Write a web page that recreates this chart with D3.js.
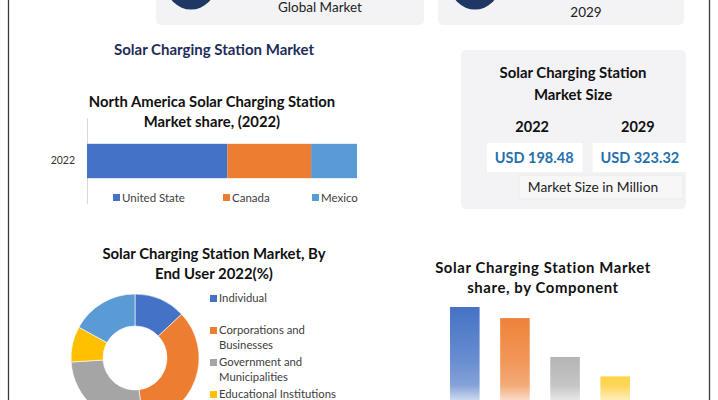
<!DOCTYPE html>
<html><head><meta charset="utf-8">
<script src="https://cdn.jsdelivr.net/npm/d3@7"></script>
<style>
html,body{margin:0;padding:0;background:#fff;}
svg{display:block;font-family:Lato,"Open Sans",sans-serif;}
</style></head>
<body><svg id="c" width="718" height="400"></svg>
<script>
// ---------- data ----------
const naYears = ["2022"];
const naCategories = ["United State", "Canada", "Mexico"];
const naValues = [52, 31, 17];

const marketYears = ["2022", "2029"];
const marketValues = [198.48, 323.32];

const endUserCategories = ["Individual", "Corporations and Businesses", "Government and Municipalities", "Educational Institutions", "Others"];
const endUserValues = [13, 35, 26, 9, 17];

const componentCategories = ["Solar Panels", "Batteries", "Charge Controllers", "Inverters"];
const componentValues = [40, 36, 22, 15];

const palette = ["#4472C4", "#ED7D31", "#A5A5A5", "#FFC000", "#5B9BD5"];
const naColors = ["#4472C4", "#ED7D31", "#5B9BD5"];

const svg = d3.select("#c");

// ---------- frame ----------
svg.append("line").attr("x1", 8.5).attr("x2", 8.5).attr("y1", 0).attr("y2", 400).attr("stroke", "#3a3a3a").attr("stroke-width", 1.3);
svg.append("line").attr("x1", 709.5).attr("x2", 709.5).attr("y1", 0).attr("y2", 400).attr("stroke", "#3a3a3a").attr("stroke-width", 1.3);

// ---------- top cards ----------
const cards = [
  {x: 156, w: 268, cx: 191, lines: ["Largest Share Of The", "Global Market"], tx: 320, y0: -7, dy: 19},
  {x: 438, w: 246, cx: 475, lines: ["Market Value To Reach By", "2029"], tx: 586, y0: -3, dy: 20}
];
cards.forEach(c => {
  svg.append("rect").attr("x", c.x).attr("y", -10).attr("width", c.w).attr("height", 35).attr("rx", 5).attr("fill", "#f3f3f6");
  svg.append("circle").attr("cx", c.cx).attr("cy", -15).attr("r", 24.5).attr("fill", "#1f3764");
  c.lines.forEach((l, i) => {
    svg.append("text").attr("x", c.tx).attr("y", c.y0 + i * c.dy).attr("text-anchor", "middle")
      .attr("font-size", 13.5).attr("fill", "#222").text(l);
  });
});

// ---------- main title ----------
svg.append("text").attr("x", 214).attr("y", 55).attr("text-anchor", "middle").attr("font-size", 15)
  .attr("font-weight", "bold").attr("fill", "#1f2d5a").text("Solar Charging Station Market");

// ---------- North America stacked bar ----------
["North America Solar Charging Station", "Market share, (2022)"].forEach((t, i) => {
  svg.append("text").attr("x", 212).attr("y", 107 + i * 20).attr("text-anchor", "middle")
    .attr("font-size", 14.8).attr("font-weight", "bold").attr("fill", "#111").text(t);
});
const naTotal = d3.sum(naValues);
const xNa = d3.scaleLinear().domain([0, naTotal]).range([87, 357]);
const yNa = d3.scaleBand().domain(naYears).range([140, 182]).padding(0.1);
const naStack = d3.stack().keys(naCategories)([Object.fromEntries(naCategories.map((k, i) => [k, naValues[i]]))]);
svg.append("line").attr("x1", 87.5).attr("x2", 87.5).attr("y1", 118).attr("y2", 204).attr("stroke", "#d9d9d9");
naStack.forEach((s, i) => {
  svg.append("rect").attr("x", xNa(s[0][0])).attr("y", yNa("2022")).attr("width", xNa(s[0][1]) - xNa(s[0][0]))
    .attr("height", yNa.bandwidth()).attr("fill", naColors[i]);
});
const yAxisNa = svg.append("g").attr("transform", "translate(87,0)").call(d3.axisLeft(yNa).tickSize(0).tickPadding(12));
yAxisNa.select(".domain").remove();
yAxisNa.selectAll("text").attr("font-size", 10.5).attr("fill", "#333").attr("font-family", "Lato, sans-serif");
const naLegX = [113, 223, 312];
naCategories.forEach((c, i) => {
  svg.append("rect").attr("x", naLegX[i]).attr("y", 194).attr("width", 7).attr("height", 7).attr("fill", naColors[i]);
  svg.append("text").attr("x", naLegX[i] + 9).attr("y", 202).attr("font-size", 11.5).attr("fill", "#404040").text(c);
});

// ---------- market size card ----------
svg.append("rect").attr("x", 461).attr("y", 50).attr("width", 225).attr("height", 159).attr("rx", 5).attr("fill", "#f3f3f5");
["Solar Charging Station", "Market Size"].forEach((t, i) => {
  svg.append("text").attr("x", 573).attr("y", 78 + i * 22).attr("text-anchor", "middle")
    .attr("font-size", 14.9).attr("font-weight", "bold").attr("fill", "#111").text(t);
});
const xMk = d3.scaleBand().domain(marketYears).range([482, 688]).paddingInner(0.05);
marketYears.forEach((yr, i) => {
  const cx = xMk(yr) + xMk.bandwidth() / 2;
  svg.append("text").attr("x", cx).attr("y", 132).attr("text-anchor", "middle").attr("font-size", 14.5)
    .attr("font-weight", "bold").attr("fill", "#111").text(yr);
  svg.append("rect").attr("x", xMk(yr) + 5).attr("y", 143).attr("width", xMk.bandwidth() - 5).attr("height", 29).attr("fill", "#fff");
  svg.append("text").attr("x", cx + 2).attr("y", 163).attr("text-anchor", "middle").attr("font-size", 14.5)
    .attr("font-weight", "bold").attr("fill", "#2470ad").text("USD " + d3.format(".2f")(marketValues[i]));
});
svg.append("rect").attr("x", 519).attr("y", 175).attr("width", 164).attr("height", 24).attr("fill", "#f7f7f8").attr("stroke", "#ececef");
svg.append("text").attr("x", 593).attr("y", 192).attr("text-anchor", "middle").attr("font-size", 13.8).attr("fill", "#222").text("Market Size in Million");

// ---------- donut ----------
["Solar Charging Station Market, By", "End User 2022(%)"].forEach((t, i) => {
  svg.append("text").attr("x", 214).attr("y", 259 + i * 20).attr("text-anchor", "middle")
    .attr("font-size", 14.9).attr("font-weight", "bold").attr("fill", "#111").text(t);
});
const pie = d3.pie().sort(null).value(d => d)(endUserValues);
const arc = d3.arc().innerRadius(32).outerRadius(64);
const gD = svg.append("g").attr("transform", "translate(135,358)");
gD.selectAll("path").data(pie).enter().append("path").attr("d", arc).attr("fill", (d, i) => palette[i])
  .attr("stroke", "#fff").attr("stroke-width", 0.6);
endUserCategories.forEach((c, i) => {
  const y0 = 302 + i * 32;
  if (y0 > 400) return; // below the visible area
  const lines = c.includes(" and ") ? [c.split(" and ")[0] + " and", c.split(" and ")[1]] : [c];
  svg.append("rect").attr("x", 210).attr("y", y0 - 7).attr("width", 7).attr("height", 7).attr("fill", palette[i]);
  lines.forEach((l, j) => {
    svg.append("text").attr("x", 219).attr("y", y0 + j * 15).attr("font-size", 11.3).attr("fill", "#404040").text(l);
  });
});

// ---------- component bars ----------
["Solar Charging Station Market", "share, by Component"].forEach((t, i) => {
  svg.append("text").attr("x", 543).attr("y", 273 + i * 20).attr("text-anchor", "middle")
    .attr("font-size", 14.9).attr("font-weight", "bold").attr("letter-spacing", 0.6).attr("fill", "#111").text(t);
});
const xC = d3.scaleBand().domain(componentCategories).range([440, 640]).paddingInner(0.41).paddingOuter(0.2);
const yC = d3.scaleLinear().domain([0, 40]).range([418, 307]);
const defs = svg.append("defs");
componentCategories.forEach((c, i) => {
  const col = palette[i];
  const g = defs.append("linearGradient").attr("id", "g" + i).attr("gradientUnits", "userSpaceOnUse")
    .attr("x1", 0).attr("x2", 0).attr("y1", 307).attr("y2", 405);
  g.append("stop").attr("offset", "0%").attr("stop-color", col);
  g.append("stop").attr("offset", "55%").attr("stop-color", d3.interpolateRgb(col, "#fff")(0.2));
  g.append("stop").attr("offset", "80%").attr("stop-color", d3.interpolateRgb(col, "#fff")(0.35));
  g.append("stop").attr("offset", "100%").attr("stop-color", d3.interpolateRgb(col, "#fff")(0.85));
});
svg.selectAll(".cbar").data(componentValues).enter().append("rect").attr("class", "cbar")
  .attr("x", (d, i) => xC(componentCategories[i])).attr("width", xC.bandwidth())
  .attr("y", d => yC(d)).attr("height", d => yC(0) - yC(d))
  .attr("fill", (d, i) => "url(#g" + i + ")");
</script></body></html>
